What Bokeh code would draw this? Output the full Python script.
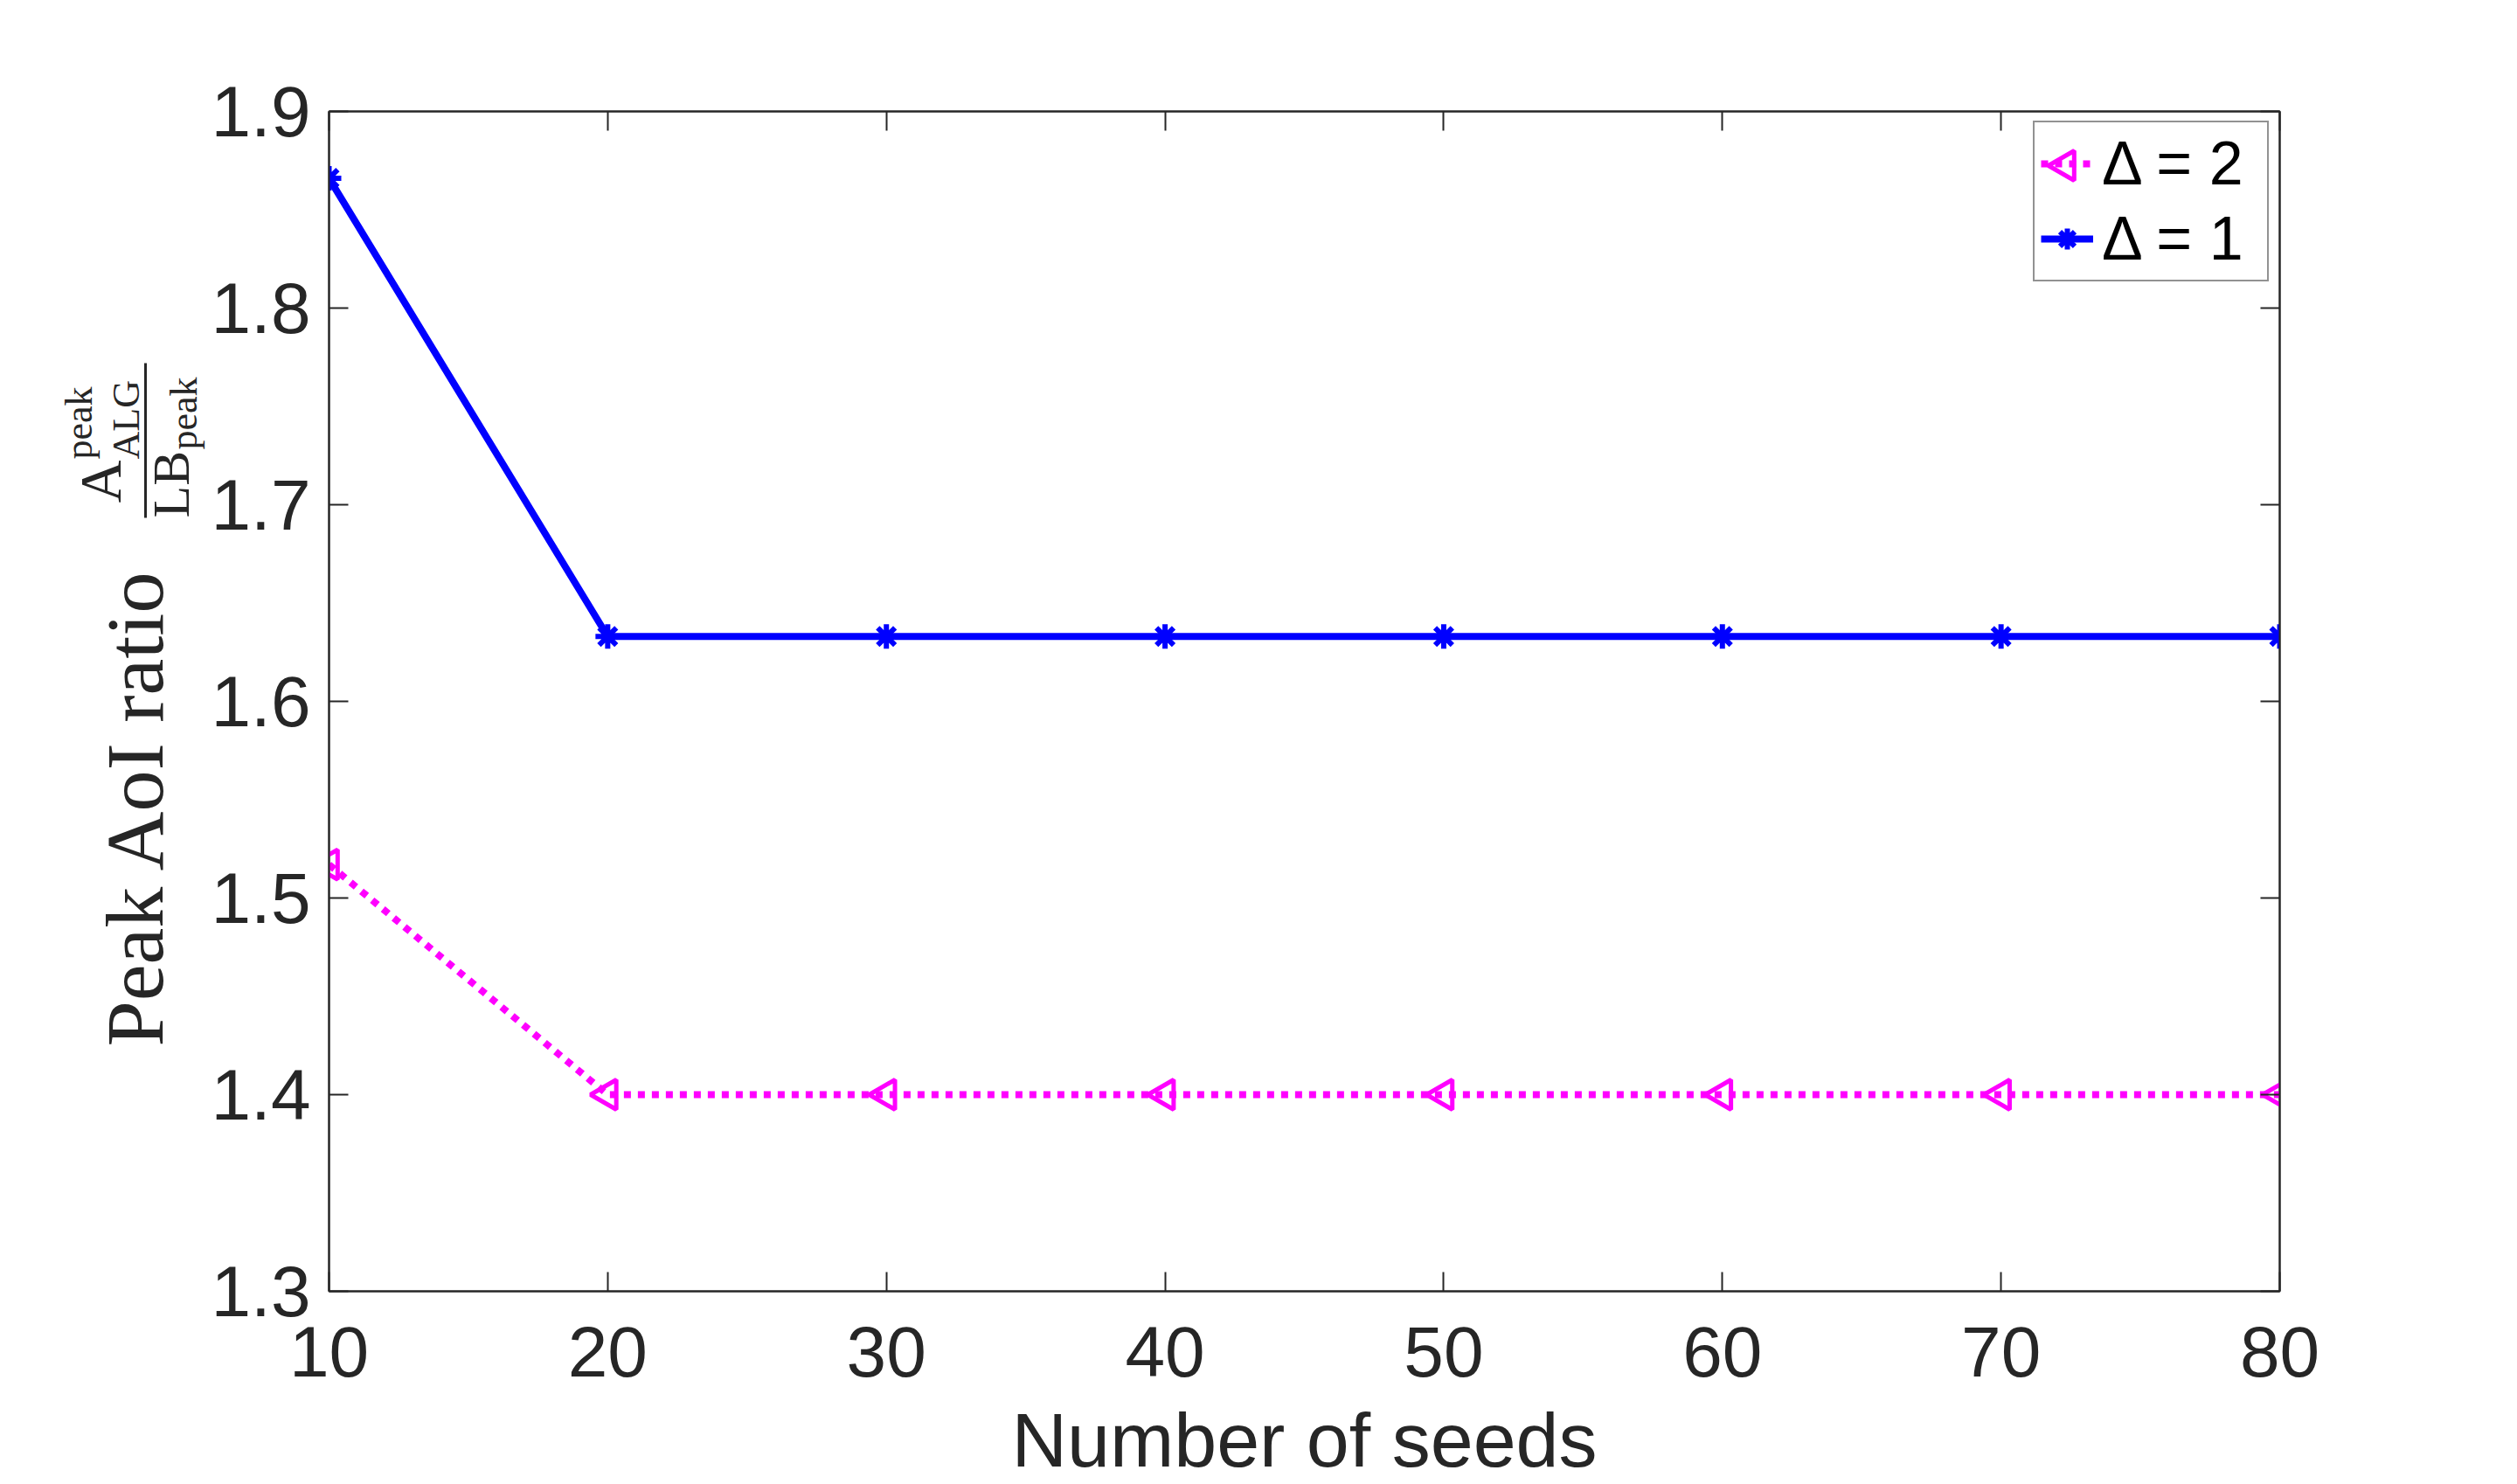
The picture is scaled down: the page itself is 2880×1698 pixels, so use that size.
import math
from bokeh.plotting import figure
from bokeh.layouts import row
from bokeh.models import Range1d, FixedTicker, LinearAxis, Legend, LegendItem
from bokeh.core.properties import value
from bokeh.embed import file_html
from bokeh.resources import INLINE

# ---------------- data ----------------
seeds = [10, 20, 30, 40, 50, 60, 70, 80]
ratio_delta2 = [1.517, 1.400, 1.400, 1.400, 1.400, 1.400, 1.400, 1.400]
ratio_delta1 = [1.866, 1.633, 1.633, 1.633, 1.633, 1.633, 1.633, 1.633]
series_labels = ["Δ = 2", "Δ = 1"]
x_ticks = [10, 20, 30, 40, 50, 60, 70, 80]
y_ticks = [1.3, 1.4, 1.5, 1.6, 1.7, 1.8, 1.9]
y_tick_labels = ["1.3", "1.4", "1.5", "1.6", "1.7", "1.8", "1.9"]
x_title = "Number of seeds"
y_title = "Peak AoI ratio"
# y-title fraction pieces: A^peak_ALG / LB_peak
frac_num_main, frac_num_sup, frac_num_sub = "A", "peak", "ALG"
frac_den_main, frac_den_sub = "LB", "peak"

X_MIN, X_MAX = 10, 80
Y_MIN, Y_MAX = 1.3, 1.9

TXT = "#262626"
MAGENTA = "#FF00FF"
BLUE = "#0000FF"
SANS = "Liberation Sans"
SERIF = "Liberation Serif"

# ---------------- layout constants (pixels) ----------------
LAB_W = 238                       # left strip holding the y title
FRAME_W, FRAME_H = 2232, 1350
BORDER_L, BORDER_T = 136, 127
FRAME_BOTTOM = BORDER_T + FRAME_H  # page y of the frame bottom

# ---------------- main plot ----------------
p = figure(frame_width=FRAME_W, frame_height=FRAME_H,
           x_range=Range1d(X_MIN, X_MAX), y_range=Range1d(Y_MIN, Y_MAX),
           output_backend="svg", toolbar_location=None,
           min_border_left=BORDER_L, min_border_right=270,
           min_border_top=BORDER_T, min_border_bottom=200)
p.grid.visible = False
p.outline_line_color = TXT
p.outline_line_width = 2
p.background_fill_color = "white"
p.border_fill_color = "white"


def style_axis(ax, ticks):
    ax.ticker = FixedTicker(ticks=ticks)
    ax.axis_line_color = TXT
    ax.axis_line_width = 2
    ax.major_tick_line_color = TXT
    ax.major_tick_line_width = 2
    ax.major_tick_in = 22
    ax.major_tick_out = 0
    ax.minor_tick_line_color = None
    ax.major_label_text_font = SANS
    ax.major_label_text_font_size = "82px"
    ax.major_label_text_color = TXT


xa = p.xaxis[0]
style_axis(xa, x_ticks)
xa.major_label_standoff = 40
xa.axis_label = x_title
xa.axis_label_text_font = SANS
xa.axis_label_text_font_style = "normal"
xa.axis_label_text_font_size = "88px"
xa.axis_label_text_color = TXT
xa.axis_label_standoff = 20

ya = p.yaxis[0]
style_axis(ya, y_ticks)
ya.major_label_standoff = 21
ya.major_label_overrides = {t: s for t, s in zip(y_ticks, y_tick_labels)}

top_ax = LinearAxis()
style_axis(top_ax, x_ticks)
top_ax.major_label_text_font_size = "0px"
top_ax.major_label_text_alpha = 0
p.add_layout(top_ax, "above")

right_ax = LinearAxis()
style_axis(right_ax, y_ticks)
right_ax.major_label_text_font_size = "0px"
right_ax.major_label_text_alpha = 0
p.add_layout(right_ax, "right")

# ---------------- series ----------------
TRI_SIZE, TRI_LW = 34, 5
r2l = p.line(seeds, ratio_delta2, line_color=MAGENTA, line_width=8,
             line_dash="8 8", line_cap="butt")
r2m = p.scatter(seeds, ratio_delta2, marker="triangle", angle=math.pi / 2,
                size=TRI_SIZE, line_color=MAGENTA, line_width=TRI_LW,
                fill_color=None)
r1l = p.line(seeds, ratio_delta1, line_color=BLUE, line_width=8)
r1m = p.scatter(seeds, ratio_delta1, marker="asterisk", size=28,
                line_color=BLUE, line_width=6)

# ---------------- legend ----------------
LEG_X, LEG_Y = 1950, 1155            # bottom-left of legend box, frame px
LEG_PAD, LEG_SPACING = 7, 6
GLYPH_W, ROW_H = 60, 80
legend = Legend(items=[LegendItem(label=series_labels[0], renderers=[r2l]),
                       LegendItem(label=series_labels[1], renderers=[r1l, r1m])],
                location=(LEG_X, LEG_Y), padding=LEG_PAD, spacing=LEG_SPACING,
                margin=0, glyph_width=GLYPH_W, glyph_height=ROW_H,
                label_standoff=10, label_height=ROW_H, label_width=182,
                label_text_font=SANS, label_text_font_size="70px",
                label_text_color="black", label_text_baseline="middle",
                border_line_color=TXT, border_line_width=2,
                background_fill_alpha=0)
p.add_layout(legend)

# left-pointing triangle for the first legend entry (legend glyphs ignore angle)
leg_h = 2 * ROW_H + LEG_SPACING + 2 * LEG_PAD
gx_px = LEG_X + LEG_PAD + GLYPH_W / 2
gy_px = LEG_Y + leg_h - LEG_PAD - ROW_H / 2
gx = X_MIN + gx_px / FRAME_W * (X_MAX - X_MIN)
gy = Y_MIN + gy_px / FRAME_H * (Y_MAX - Y_MIN)
leg_tri = p.scatter([gx], [gy], marker="triangle", angle=math.pi / 2,
                    size=TRI_SIZE, line_color=MAGENTA, line_width=TRI_LW,
                    fill_color=None, level="overlay")

# ---------------- y title strip (frame aligned with the main frame) ----------------
lab = figure(frame_width=LAB_W, frame_height=FRAME_H,
             x_range=Range1d(0, LAB_W), y_range=Range1d(0, FRAME_H),
             output_backend="svg", toolbar_location=None,
             min_border_left=0, min_border_right=0,
             min_border_top=BORDER_T, min_border_bottom=0)
lab.axis.visible = False
lab.grid.visible = False
lab.outline_line_color = None
lab.background_fill_color = "white"
lab.border_fill_color = "white"

BASELINE_SHIFT = 0.37   # rotated text lands this many em below its anchor


def vtext(txt, px, py, size):
    # px: wanted baseline x on page, py: page y where the (upward) text starts
    lab.text(x=[px - BASELINE_SHIFT * size], y=[FRAME_BOTTOM - py], text=[txt],
             angle=math.pi / 2,
             text_font=value(SERIF), text_font_size=value(f"{size}px"),
             text_color=TXT, text_align="left", text_baseline="alphabetic")


vtext(y_title, 188, 1197, 94)
vtext(frac_num_main, 140, 575, 68)
vtext(frac_num_sup, 106, 525, 44)
vtext(frac_num_sub, 160, 525, 44)
vtext(frac_den_main, 218, 592, 60)
vtext(frac_den_sub, 226, 514, 44)
lab.segment(x0=[166], y0=[FRAME_BOTTOM - 592], x1=[166], y1=[FRAME_BOTTOM - 415],
            line_color=TXT, line_width=3)

layout = row(lab, p)
open("out.html", "w").write(file_html(layout, INLINE))
